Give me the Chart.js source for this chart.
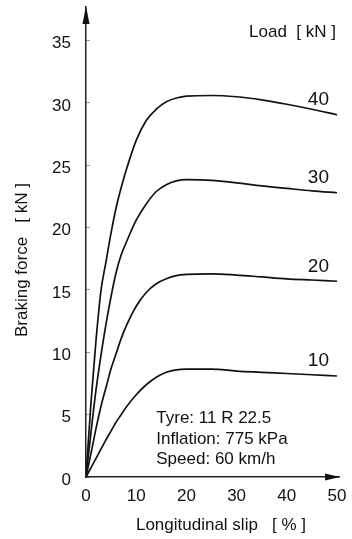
<!DOCTYPE html>
<html>
<head>
<meta charset="utf-8">
<script src="https://cdn.jsdelivr.net/npm/chart.js@4/dist/chart.umd.min.js"></script>
<style>
  html, body { margin: 0; padding: 0; background: #fff; }
  #wrap { width: 352px; height: 539px; }
</style>
</head>
<body>
<div id="wrap"><canvas id="brakeCanvas" width="352" height="539"></canvas></div>
<script>
// longitudinal slip [%]
const slip = [0, 1, 2, 3, 4, 5, 6, 7, 8, 10, 12, 14, 16, 18, 20, 25, 30, 35, 40, 45, 50];

// braking force [kN] per wheel load
const load40 = [0, 6.0, 11.0, 15.0, 17.3, 19.6, 21.6, 23.2, 24.6, 27.0, 28.6, 29.5, 30.1, 30.4, 30.55, 30.6, 30.5, 30.25, 29.9, 29.5, 29.05];
const load30 = [0, 3.6, 7.0, 9.8, 12.3, 14.5, 16.4, 17.8, 18.8, 20.6, 21.9, 22.9, 23.45, 23.75, 23.85, 23.8, 23.6, 23.35, 23.15, 22.95, 22.8];
const load20 = [0, 1.9, 3.9, 5.7, 7.2, 8.7, 9.9, 11.1, 12.1, 13.7, 14.8, 15.5, 15.9, 16.15, 16.25, 16.3, 16.2, 16.05, 15.9, 15.8, 15.7];
const load10 = [0, 0.75, 1.5, 2.25, 3.0, 3.7, 4.4, 5.0, 5.6, 6.6, 7.4, 8.0, 8.4, 8.6, 8.65, 8.65, 8.5, 8.4, 8.3, 8.2, 8.1];

const loadLabels = ["40", "30", "20", "10"];
const xTicks = [0, 10, 20, 30, 40, 50];
const yTicks = [0, 5, 10, 15, 20, 25, 30, 35];
const tyreNotes = ["Tyre: 11 R 22.5", "Inflation: 775 kPa", "Speed: 60 km/h"];

const FONT = '"Liberation Sans", Arial, sans-serif';
Chart.defaults.font.family = FONT;
Chart.defaults.color = "#111";

function toPoints(vals) {
    return vals.map((v, i) => ({ x: slip[i], y: v }));
}

const extras = {
    id: "extras",
    afterDraw(chart) {
        const ctx = chart.ctx;
        const area = chart.chartArea;
        const xs = chart.scales.x;
        const ys = chart.scales.y;
        ctx.save();
        ctx.fillStyle = "#111";

        // arrow heads on the axes
        ctx.beginPath();
        ctx.moveTo(area.left, area.top - 1);
        ctx.lineTo(area.left - 3.5, area.top + 17);
        ctx.lineTo(area.left + 3.5, area.top + 17);
        ctx.closePath();
        ctx.fill();
        ctx.beginPath();
        ctx.moveTo(area.right + 1, area.bottom);
        ctx.lineTo(area.right - 14, area.bottom - 3.5);
        ctx.lineTo(area.right - 14, area.bottom + 3.5);
        ctx.closePath();
        ctx.fill();

        // load labels above the curve ends
        ctx.font = "19px " + FONT;
        ctx.textAlign = "center";
        ctx.textBaseline = "middle";
        chart.data.datasets.forEach((ds, i) => {
            const last = ds.data[ds.data.length - 1].y;
            ctx.fillText(loadLabels[i], xs.getPixelForValue(46.3), ys.getPixelForValue(last) - 15);
        });

        ctx.font = "17px " + FONT;
        ctx.textAlign = "right";
        ctx.fillText("Load  [ kN ]", area.right - 3, 32);

        ctx.textAlign = "left";
        tyreNotes.forEach((t, i) => {
            ctx.fillText(t, xs.getPixelForValue(14), ys.getPixelForValue(4.7) + i * 20.5);
        });

        // axis titles
        ctx.textAlign = "center";
        ctx.fillText("Longitudinal slip   [ % ]", 221, 525);
        ctx.translate(22, 260);
        ctx.rotate(-Math.PI / 2);
        ctx.fillText("Braking force   [ kN ]", 0, 0);
        ctx.restore();
    }
};

const brakeChart = new Chart(document.getElementById("brakeCanvas"), {
    type: "line",
    data: {
        datasets: [load40, load30, load20, load10].map((vals, i) => ({
            label: loadLabels[i] + " kN",
            data: toPoints(vals),
            borderColor: "#111",
            borderWidth: 1.7,
            pointRadius: 0,
            fill: false,
            cubicInterpolationMode: "monotone"
        }))
    },
    options: {
        responsive: false,
        animation: false,
        layout: { padding: { top: 7, right: 13, bottom: 0, left: 0 } },
        plugins: { legend: { display: false }, tooltip: { enabled: false } },
        scales: {
            x: {
                type: "linear",
                min: 0,
                max: 50.4,
                afterBuildTicks: (scale) => { scale.ticks = xTicks.map(v => ({ value: v })); },
                afterFit: (scale) => {
                    scale.height = 62;
                    scale.paddingLeft = 0;
                    scale.paddingRight = 0;
                },
                grid: { display: false, drawTicks: false },
                border: { display: true, color: "#222", width: 1.5 },
                ticks: { font: { size: 17 }, padding: 9, maxRotation: 0 }
            },
            y: {
                type: "linear",
                min: 0,
                max: 37.7,
                afterBuildTicks: (scale) => { scale.ticks = yTicks.map(v => ({ value: v })); },
                afterFit: (scale) => {
                    scale.width = 86;
                    scale.paddingTop = 0;
                    scale.paddingBottom = 0;
                },
                grid: { display: true, drawOnChartArea: false, drawTicks: true, tickLength: -4, color: "#999" },
                border: { display: true, color: "#222", width: 1.5 },
                ticks: { font: { size: 17 }, padding: 19, labelOffset: 3 }
            }
        }
    },
    plugins: [extras]
});
</script>
</body>
</html>
